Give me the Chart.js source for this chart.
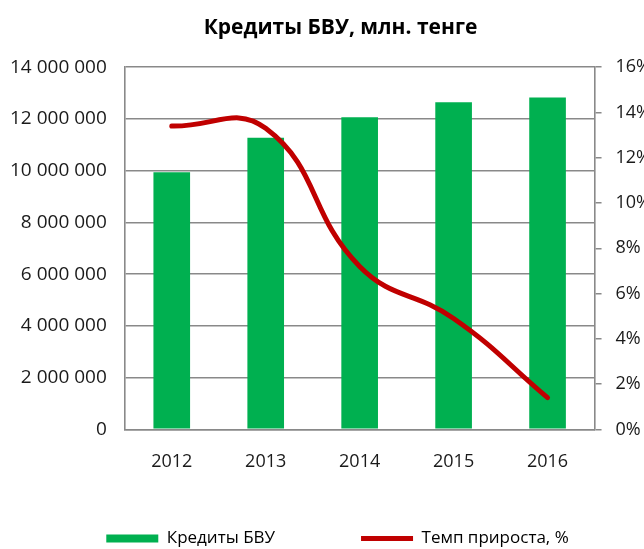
<!DOCTYPE html>
<html>
<head>
<meta charset="utf-8">
<script src="https://cdn.jsdelivr.net/npm/chart.js@4/dist/chart.umd.min.js"></script>
<style>
  html, body { margin: 0; padding: 0; background: #ffffff; }
  #wrap { width: 644px; height: 549px; }
</style>
</head>
<body>
<div id="wrap"><canvas id="chart"></canvas></div>
<script>
// Loans of second-tier banks (БВУ), mln tenge, and annual growth rate
const years = ['2012', '2013', '2014', '2015', '2016'];
const loans = [9940000, 11270000, 12070000, 12650000, 12830000];
const growthPct = [13.4, 13.3, 7.2, 4.9, 1.4];

const chartTitle = 'Кредиты БВУ, млн. тенге';
const loansLabel = 'Кредиты БВУ';
const growthLabel = 'Темп прироста, %';

const GRID = '#898989';
const TEXT = '#1a1a1a';
const LEGEND_GAP = 86;

Chart.defaults.font.family = "'Open Sans', 'DejaVu Sans', sans-serif";
Chart.defaults.color = TEXT;

function spaced(v) {
  return String(Math.round(v)).replace(/\B(?=(\d{3})+(?!\d))/g, ' ');
}

// Re-centres the title and lets the legend row sit near the bottom edge
// while keeping a wide gap between its two items
const boxNudge = {
  id: 'boxNudge',
  afterLayout(chart) {
    const t = chart.titleBlock;
    const l = chart.legend;
    t.left += 12; t.right += 12;
    l.left += 9; l.right += 9;
    l.top = l.bottom - 19 - LEGEND_GAP;
  }
};

new Chart(document.getElementById('chart'), {
  data: {
    labels: years,
    datasets: [
      {
        type: 'bar',
        label: loansLabel,
        data: loans,
        backgroundColor: '#00B050',
        borderWidth: 0,
        barPercentage: 0.39,
        categoryPercentage: 1,
        yAxisID: 'y',
        order: 1,
        pointStyle: 'rect'
      },
      {
        type: 'line',
        label: growthLabel,
        data: growthPct,
        borderColor: '#C00000',
        backgroundColor: '#C00000',
        borderWidth: 5,
        borderCapStyle: 'round',
        borderJoinStyle: 'round',
        tension: 0.45,
        pointRadius: 0,
        pointHoverRadius: 0,
        fill: false,
        yAxisID: 'y1',
        order: 0,
        pointStyle: 'line'
      }
    ]
  },
  options: {
    responsive: true,
    maintainAspectRatio: false,
    animation: false,
    layout: { padding: { left: -8, right: -21, top: 0, bottom: 0 } },
    plugins: {
      title: {
        display: true,
        text: chartTitle,
        color: '#000000',
        font: { size: 21, weight: 'bold' },
        padding: { top: 15, bottom: 27 }
      },
      legend: {
        position: 'bottom',
        maxHeight: 54,
        labels: {
          usePointStyle: true,
          pointStyleWidth: 52,
          boxHeight: 8,
          padding: LEGEND_GAP,
          color: '#000000',
          font: { size: 17 },
          sort: (a, b) => a.datasetIndex - b.datasetIndex
        }
      },
      tooltip: { enabled: false }
    },
    scales: {
      x: {
        grid: { display: false, drawTicks: false },
        border: { display: true, color: GRID, width: 1.5 },
        ticks: { padding: 22, font: { size: 18 }, color: TEXT }
      },
      y: {
        position: 'left',
        min: 0,
        max: 14000000,
        grid: { color: GRID, lineWidth: 1.6, drawTicks: false },
        border: { display: true, color: GRID, width: 1.6 },
        ticks: {
          stepSize: 2000000,
          padding: 18,
          font: { size: 19 },
          color: TEXT,
          callback: (v) => spaced(v)
        }
      },
      y1: {
        position: 'right',
        min: 0,
        max: 16,
        grid: { drawOnChartArea: false, color: GRID, lineWidth: 1.5, tickLength: 7 },
        border: { display: true, color: GRID, width: 1.6 },
        ticks: {
          stepSize: 2,
          padding: 14,
          font: { size: 18 },
          color: TEXT,
          callback: (v) => v + '%'
        }
      }
    }
  },
  plugins: [boxNudge]
});
</script>
</body>
</html>
